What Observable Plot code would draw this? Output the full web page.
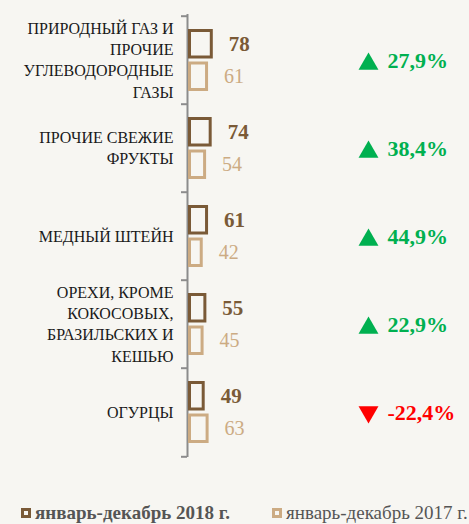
<!DOCTYPE html>
<html><head><meta charset="utf-8">
<script src="https://cdn.jsdelivr.net/npm/d3@7"></script>
<script src="https://cdn.jsdelivr.net/npm/@observablehq/plot@0.6"></script>
<style>
html,body{margin:0;padding:0;background:#f7f6f2;}
body{width:469px;height:524px;overflow:hidden;font-family:"Liberation Serif",serif;}
#chart svg{display:block;}
#legend{position:relative;height:54px;}
.item{position:absolute;top:33px;display:flex;align-items:center;gap:4px;font-size:19px;color:#555;line-height:20px;white-space:nowrap;}
.sw{display:inline-block;width:4px;height:4px;border:3px solid;}
</style></head><body><div id="chart"></div><div id="legend"></div>
<script>
const categories = [
  "ПРИРОДНЫЙ ГАЗ И\nПРОЧИЕ\nУГЛЕВОДОРОДНЫЕ\nГАЗЫ",
  "ПРОЧИЕ СВЕЖИЕ\nФРУКТЫ",
  "МЕДНЫЙ ШТЕЙН",
  "ОРЕХИ, КРОМЕ\nКОКОСОВЫХ,\nБРАЗИЛЬСКИХ И\nКЕШЬЮ",
  "ОГУРЦЫ"
];
const values2018 = [78, 74, 61, 55, 49];
const values2017 = [61, 54, 42, 45, 63];
const changes = [27.9, 38.4, 44.9, 22.9, -22.4];
const seriesLabels = ["январь-декабрь 2018 г.", "январь-декабрь 2017 г."];

const dark = "#7a5a37", light = "#ccab83", green = "#00b050", red = "#ff0000", axisGray = "#8c8c8c";
const W = 469, H = 470, mT = 14, mB = 13, mL = 189.5;
const bw = (H - mT - mB) / categories.length;
const rows = categories.map((c, i) => ({category: c, v2018: values2018[i], v2017: values2017[i], change: changes[i]}));
const fmt = v => v.toFixed(1).replace(".", ",") + "%";

const chart = Plot.plot({
  width: W, height: H, marginTop: mT, marginBottom: mB, marginLeft: mL, marginRight: 0,
  style: {background: "transparent", fontFamily: "'Liberation Serif', serif", overflow: "visible"},
  x: {domain: [0, 1000], axis: null},
  y: {type: "band", domain: categories, padding: 0, label: null},
  marks: [
    Plot.ruleX([0], {stroke: axisGray, strokeWidth: 2, dx: -2.5}),
    Plot.axisY({tickSize: 6, tickFormat: () => "", label: null, dy: -bw / 2, dx: -2.5, stroke: axisGray, strokeWidth: 2}),
    Plot.axisY({ticks: [categories[categories.length - 1]], tickSize: 6, tickFormat: () => "", label: null, dy: bw / 2, dx: -2.5, stroke: axisGray, strokeWidth: 2}),
    Plot.text(categories, {y: d => d, frameAnchor: "left", textAnchor: "end", dx: -16.5, dy: -1.5, fontSize: 16, lineHeight: 1.33, fill: "#1a1a1a"}),
    Plot.barX(rows, {x: "v2018", y: "category", insetTop: 14.5, insetBottom: 47, fill: "none", stroke: dark, strokeWidth: 3}),
    Plot.barX(rows, {x: "v2017", y: "category", insetTop: 47, insetBottom: 14.5, fill: "none", stroke: light, strokeWidth: 3}),
    Plot.text(rows, {x: "v2018", y: "category", text: d => String(d.v2018), textAnchor: "start", dx: 17, dy: -16.5, fontSize: 21, fontWeight: "bold", fill: dark}),
    Plot.text(rows, {x: "v2017", y: "category", text: d => String(d.v2017), textAnchor: "start", dx: 17, dy: 16, fontSize: 20, fill: light}),
    Plot.dot(rows.filter(d => d.change >= 0), {y: "category", frameAnchor: "right", dx: -101, dy: 3.6, symbol: "triangle", r: 7.4, fill: green, stroke: "none"}),
    Plot.dot(rows.filter(d => d.change < 0), {y: "category", frameAnchor: "right", dx: -101, dy: -0.6, rotate: 180, symbol: "triangle", r: 7.4, fill: red, stroke: "none"}),
    Plot.text(rows, {y: "category", frameAnchor: "right", textAnchor: "start", dx: -82, dy: 0.2, text: d => fmt(d.change), fontSize: 22, fontWeight: "bold", fill: d => d.change < 0 ? red : green})
  ]
});
document.getElementById("chart").appendChild(chart);

const legend = document.getElementById("legend");
[[seriesLabels[0], dark, "bold", 21], [seriesLabels[1], light, "normal", 272]].forEach(([label, color, weight, left]) => {
  const item = document.createElement("div");
  item.className = "item";
  item.style.left = left + "px";
  item.style.fontWeight = weight;
  const sw = document.createElement("span");
  sw.className = "sw";
  sw.style.borderColor = color;
  const t = document.createElement("span");
  t.textContent = label;
  item.appendChild(sw);
  item.appendChild(t);
  legend.appendChild(item);
});
</script></body></html>
